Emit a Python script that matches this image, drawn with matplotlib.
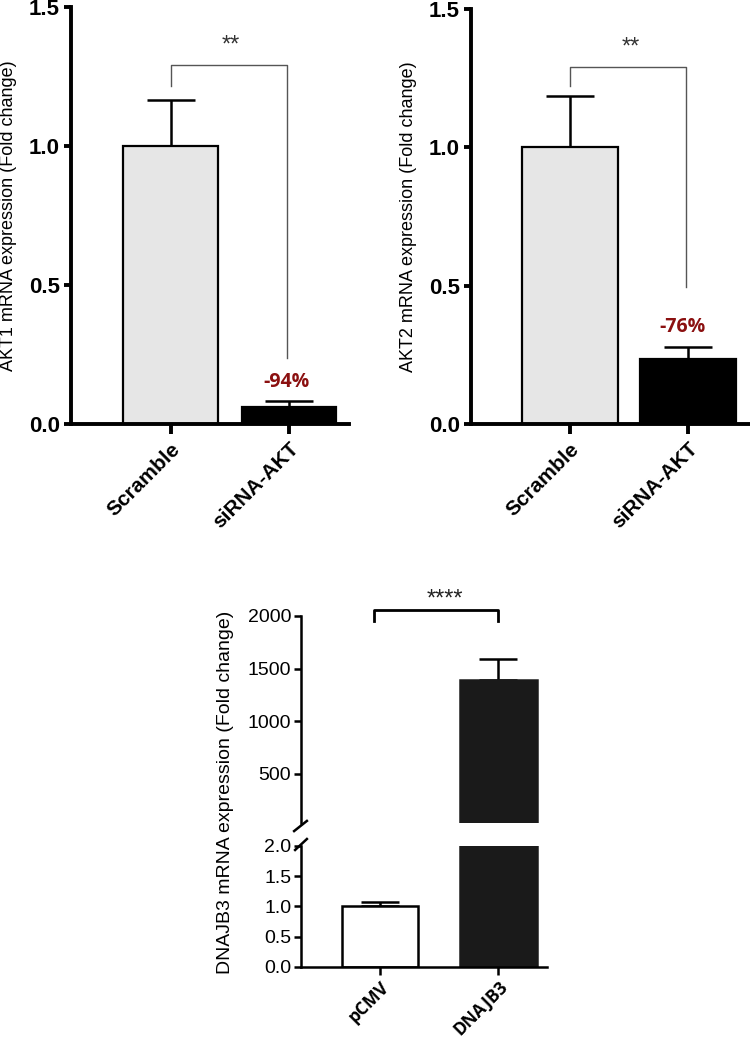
import numpy as np
import matplotlib
matplotlib.use("Agg")
import matplotlib.pyplot as plt
from matplotlib.lines import Line2D

plt.rcParams["font.family"] = ["Liberation Sans", "DejaVu Sans"]

# --- data ---
akt_groups = ["Scramble", "siRNA-AKT"]
akt1_mean = [1.0, 0.062]
akt1_err = [0.165, 0.021]
akt2_mean = [1.0, 0.235]
akt2_err = [0.185, 0.045]
akt_pct = ["-94%", "-76%"]
akt_sig = "**"

dnajb3_groups = ["pCMV", "DNAJB3"]
dnajb3_mean = [1.0, 1395.0]
dnajb3_err = [0.07, 195.0]
dnajb3_sig = "****"

W, H = 750, 1038
fig = plt.figure(figsize=(W / 100, H / 100), dpi=100)

DARKRED = "#8b1010"


def akt_panel(rect, mean, err, ylabel, pct, pct_xy, bracket, xlim, width):
    ax = fig.add_axes(rect)
    x = np.arange(len(mean))
    ax.bar(x, mean, width=width, color=["#e6e6e6", "black"],
           edgecolor="black", linewidth=1.6, zorder=2)
    ax.errorbar(x, mean, yerr=[[0, 0], err], fmt="none", ecolor="black",
                elinewidth=1.8, capsize=17, capthick=1.8, zorder=1)
    ax.set_xlim(*xlim)
    ax.set_ylim(0, 1.5)
    ax.set_yticks([0.0, 0.5, 1.0, 1.5])
    ax.set_yticklabels(["0.0", "0.5", "1.0", "1.5"], fontsize=16, fontweight="bold")
    ax.set_xticks(x)
    ax.set_xticklabels(akt_groups, fontsize=15, fontweight="bold",
                       rotation=45, ha="right", va="top", rotation_mode="anchor")
    for s in ["top", "right"]:
        ax.spines[s].set_visible(False)
    for s in ["left", "bottom"]:
        ax.spines[s].set_linewidth(2.8)
    ax.tick_params(axis="y", width=2.8, length=5, pad=3)
    ax.tick_params(axis="x", width=2.8, length=7, pad=4)
    ax.set_ylabel(ylabel, fontsize=13)
    ax.yaxis.set_label_coords(-0.194, 0.5)
    # significance bracket
    top, left_end, right_end = bracket
    ax.plot([x[0], x[0], x[1] - 0.02, x[1] - 0.02], [left_end, top, top, right_end],
            color="#555555", lw=1.0)
    ax.text(0.51, 1.36, akt_sig, ha="center", va="center", fontsize=17, color="#333333")
    ax.text(pct_xy[0], pct_xy[1], pct, ha="center", va="center", fontsize=14,
            fontweight="bold", color=DARKRED, family=["Open Sans", "DejaVu Sans"])
    return ax


akt_panel([71 / W, 1 - 424 / H, 278 / W, 417 / H], akt1_mean, akt1_err,
          "AKT1 mRNA expression (Fold change)", akt_pct[0], (0.98, 0.15),
          (1.29, 1.216, 0.237), (-0.84, 1.506), 0.8)
akt_panel([471 / W, 1 - 424 / H, 279 / W, 415 / H], akt2_mean, akt2_err,
          "AKT2 mRNA expression (Fold change)", akt_pct[1], (0.95, 0.35),
          (1.29, 1.22, 0.495), (-0.835, 1.52), 0.81)

# --- broken-axis DNAJB3 panel ---
left3, width3 = 301 / W, 245.7 / W
ax_up = fig.add_axes([left3, 1 - 823 / H, width3, 207 / H])
ax_lo = fig.add_axes([left3, 1 - 966.7 / H, width3, 120.7 / H])
x3 = np.arange(len(dnajb3_mean))
for ax in (ax_up, ax_lo):
    ax.bar(x3, dnajb3_mean, width=0.65, color=["white", "#1a1a1a"],
           edgecolor=["black", "#1a1a1a"], linewidth=1.8, zorder=2)
    ax.set_xlim(-0.668, 1.41)
    for s in ["top", "right"]:
        ax.spines[s].set_visible(False)
    for s in ["left", "bottom"]:
        ax.spines[s].set_linewidth(1.8)
    ax.tick_params(axis="y", width=1.8, length=5, labelsize=14, pad=2)
    ax.tick_params(axis="x", width=1.8, length=6, pad=2)

ax_up.errorbar([x3[1]], [dnajb3_mean[1]], yerr=[[0], [dnajb3_err[1]]], fmt="none",
               ecolor="black", elinewidth=1.8, capsize=14, capthick=1.8, zorder=1)
ax_lo.errorbar([x3[0]], [dnajb3_mean[0]], yerr=[[0], [dnajb3_err[0]]], fmt="none",
               ecolor="black", elinewidth=1.8, capsize=14, capthick=1.8, zorder=1)

ax_up.set_ylim(30, 2000)
ax_up.set_yticks([500, 1000, 1500, 2000])
ax_up.spines["bottom"].set_visible(False)
ax_up.tick_params(axis="x", bottom=False, labelbottom=False)

ax_lo.set_ylim(0, 2.0)
ax_lo.set_yticks([0.0, 0.5, 1.0, 1.5, 2.0])
ax_lo.set_yticklabels(["0.0", "0.5", "1.0", "1.5", "2.0"])
ax_lo.set_xticks(x3)
ax_lo.set_xticklabels(dnajb3_groups, fontsize=12.5, fontweight="bold", rotation=45,
                      ha="right", va="top", rotation_mode="anchor",
                      family=["Open Sans", "DejaVu Sans"])

# break marks on the y axis
ax_up.add_line(Line2D([-0.028, 0.024], [-0.039, 0.01], transform=ax_up.transAxes,
                      color="black", lw=1.8, clip_on=False))
ax_lo.add_line(Line2D([-0.024, 0.024], [0.967, 1.058], transform=ax_lo.transAxes,
                      color="black", lw=1.8, clip_on=False))

# significance bracket
ax_up.plot([x3[0] - 0.05, x3[0] - 0.05, x3[1], x3[1]], [1950, 2058, 2058, 1950],
           color="black", lw=2.0, clip_on=False)
ax_up.text(0.55, 2160, dnajb3_sig, ha="center", va="center", fontsize=17, color="#222222")

fig.text(225 / W, 1 - 792 / H, "DNAJB3 mRNA expression (Fold change)", rotation=90,
         ha="center", va="center", fontsize=14)

fig.savefig("out.png", dpi=100)
